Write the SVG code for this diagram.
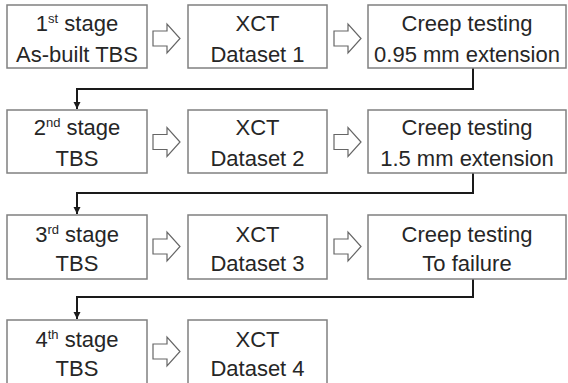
<svg xmlns="http://www.w3.org/2000/svg" width="568" height="383" viewBox="0 0 568 383">
<defs>
<style>
.box{fill:#fff;stroke:#808080;stroke-width:1.5}
.t{font-family:"Liberation Sans",Arial,sans-serif;font-size:22px;fill:#262626;text-anchor:middle}
.sup{font-size:13px}
.ha{fill:#fff;stroke:#666;stroke-width:1.2;stroke-linejoin:miter}
.con{fill:none;stroke:#1a1a1a;stroke-width:2}
</style>
<marker id="ah" markerWidth="8" markerHeight="8" refX="7" refY="4" orient="auto" markerUnits="userSpaceOnUse">
<path d="M0,0.5 L7,4 L0,7.5 Z" fill="#1a1a1a"/>
</marker>
<path id="hollow" d="M0,-7.5 H14 V-14.5 L27,0 L14,14.5 V7.5 H0 Z"/>
</defs>
<rect width="568" height="383" fill="#fff"/>

<g id="connectors">
<path class="con" d="M473,68 V89 H77 V109" marker-end="url(#ah)"/>
<path class="con" d="M473,173 V193 H77 V214" marker-end="url(#ah)"/>
<path class="con" d="M473,279 V297 H77 V319" marker-end="url(#ah)"/>
<use href="#hollow" class="ha" x="153" y="38.5"/>
<use href="#hollow" class="ha" x="334" y="38.5"/>
<use href="#hollow" class="ha" x="153" y="142"/>
<use href="#hollow" class="ha" x="334" y="142"/>
<use href="#hollow" class="ha" x="153" y="246.5"/>
<use href="#hollow" class="ha" x="334" y="246.5"/>
<use href="#hollow" class="ha" x="153" y="351.5"/>
</g>

<g id="n1"><rect class="box" x="7" y="5" width="140" height="63"/>
<text class="t" x="77" y="31">1<tspan class="sup" dy="-8">st</tspan><tspan dy="8"> stage</tspan></text>
<text class="t" x="77" y="62">As-built TBS</text></g>
<g id="n2"><rect class="box" x="188" y="5" width="139" height="63"/>
<text class="t" x="257.5" y="31">XCT</text>
<text class="t" x="257.5" y="62">Dataset 1</text></g>
<g id="n3"><rect class="box" x="368" y="5" width="198" height="63"/>
<text class="t" x="467" y="31">Creep testing</text>
<text class="t" x="467" y="62">0.95 mm extension</text></g>

<g id="n4"><rect class="box" x="7" y="110" width="140" height="63"/>
<text class="t" x="77" y="135">2<tspan class="sup" dy="-8">nd</tspan><tspan dy="8"> stage</tspan></text>
<text class="t" x="77" y="166">TBS</text></g>
<g id="n5"><rect class="box" x="188" y="110" width="139" height="63"/>
<text class="t" x="257.5" y="135">XCT</text>
<text class="t" x="257.5" y="166">Dataset 2</text></g>
<g id="n6"><rect class="box" x="368" y="110" width="198" height="63"/>
<text class="t" x="467" y="135">Creep testing</text>
<text class="t" x="467" y="166">1.5 mm extension</text></g>

<g id="n7"><rect class="box" x="7" y="215" width="140" height="64"/>
<text class="t" x="77" y="242">3<tspan class="sup" dy="-8">rd</tspan><tspan dy="8"> stage</tspan></text>
<text class="t" x="77" y="271">TBS</text></g>
<g id="n8"><rect class="box" x="188" y="215" width="139" height="64"/>
<text class="t" x="257.5" y="242">XCT</text>
<text class="t" x="257.5" y="271">Dataset 3</text></g>
<g id="n9"><rect class="box" x="368" y="215" width="198" height="64"/>
<text class="t" x="467" y="242">Creep testing</text>
<text class="t" x="467" y="271">To failure</text></g>

<g id="n10"><rect class="box" x="7" y="320" width="140" height="70"/>
<text class="t" x="77" y="347">4<tspan class="sup" dy="-8">th</tspan><tspan dy="8"> stage</tspan></text>
<text class="t" x="77" y="376">TBS</text></g>
<g id="n11"><rect class="box" x="188" y="320" width="139" height="70"/>
<text class="t" x="257.5" y="347">XCT</text>
<text class="t" x="257.5" y="376">Dataset 4</text></g>
</svg>
